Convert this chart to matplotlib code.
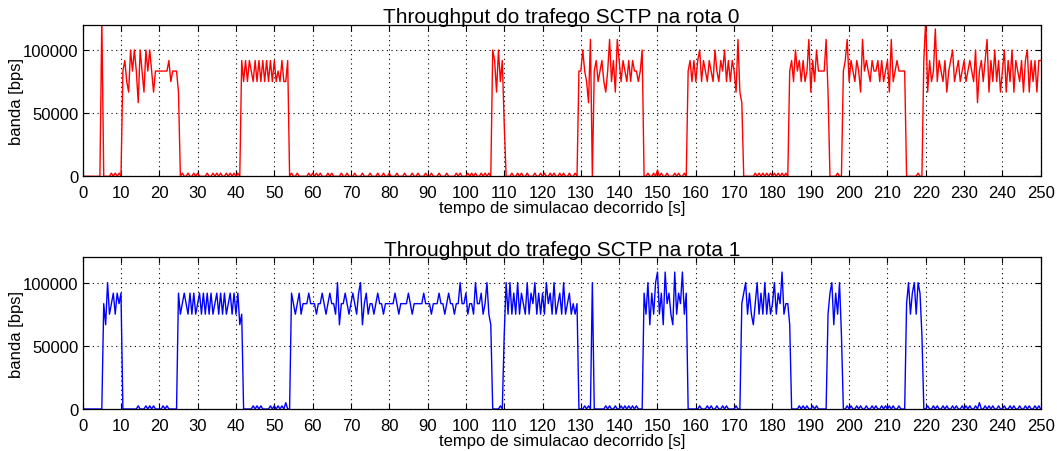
import numpy as np
import matplotlib.pyplot as plt

plt.rcParams['font.family'] = ['Liberation Sans', 'DejaVu Sans']

# banda em bps por codigo (um caractere por amostra, amostras a cada 0.5 s)
LEVELS = {'0': 0, '1': 2500, '2': 5000, '5': 41667, '6': 50000, '7': 58333,
          '8': 66667, '9': 75000, 'a': 83333, 'b': 91667, 'c': 100000,
          'd': 108333, 'e': 116667, 'f': 125000}
STEP = 0.5

# rota 0, uma linha por 10 s
rota0 = [
    "0000000000f000010101", "0ab98caca7ca8caca8aa", "aaaaab9aaa8010010010",
    "10000100101010010101", "010b9b9ba9b9b9b9b9b9", "b9a9b99b010010000010",
    "10101000101000010010", "00100010001000100100", "10001000100010010001",
    "00100010001000010100", "01010100101010cb8c9b", "50001001010010001001",
    "0100101001010010010a", "aca97d0ab9ab98ad9b8d", "b9ba9b9baa9ac0010010",
    "2010010001010010ab9b", "9bc9ba9ba9ca9bac9b9b", "a8d87000000101010101",
    "010101010ab9cab9b9ad", "8b9caaaad80000100abd", "9ba9ba8daba9baab9b9a",
    "b8d9abaaaa000000100b", "f8b9ae9ba9b8abc9ab9a", "b9aba9c7ab9bd8b9c9b8",
    "ac8b9c8ba9b8bc8b9b8b", "b",
]

# rota 1
rota1 = [
    "00000000000a8c9ab9ba", "b0000000010001010100", "0010100000b9aba9b9b9",
    "ab9b9b9b9ab9b9b9ab9b", "9b890000010101000010", "101010200ba9ab9aaaba",
    "aa9aaba9abaa9c8aaba9", "aba9bc8ab9aa9abaa9aa", "aaaba9aaaaba9aaaaaba",
    "aa9aaabaa9abaa9aacaa", "b9aa9caab9ac98000010", "7c9c9b9c9ba9c9bac9b9",
    "b9cab9c9ab9c9ab9a9a0", "001010c0000001010010", "0101010101000b9c8b9c",
    "d9b8dab98d9bad9b0000", "00100010100100101000", "0100abc9b98ac9b9c9b9",
    "ac9bad9aa80000101010", "0101000009bc8b9c7001", "01001010010010100101",
    "0101001000ac9bc9cb70", "01001010010100101001", "01010010200101010010",
    "01001010010010100101", "0",
]

titles = ["Throughput do trafego SCTP na rota 0",
          "Throughput do trafego SCTP na rota 1"]
colors = ["#ff0000", "#0000ff"]


def decode(lines):
    codes = "".join(lines)
    vals = np.array([LEVELS[c] for c in codes], dtype=float)
    t = np.arange(len(vals)) * STEP
    return t, vals


fig = plt.figure(figsize=(10.57, 4.52), dpi=100)
boxes = [[0.0782, 0.6077, 0.9064, 0.3354], [0.0782, 0.0929, 0.9064, 0.3356]]

for box, data, title, color in zip(boxes, [rota0, rota1], titles, colors):
    ax = fig.add_axes(box)
    t, v = decode(data)
    ax.plot(t, v, color=color, lw=1.0)
    ax.set_xlim(0, 250)
    ax.set_ylim(0, 120000)
    ax.set_xticks(np.arange(0, 251, 10))
    ax.set_yticks([0, 50000, 100000])
    ax.set_yticklabels(["0", "50000", "100000"])
    ax.tick_params(direction='in', top=True, right=True, length=4,
                   labelsize=12, width=0.8)
    ax.tick_params(axis='x', pad=6.5)
    ax.tick_params(axis='y', pad=3)
    ax.grid(True, color='black', linestyle=(0, (1, 3.2)), lw=0.8)
    for s in ax.spines.values():
        s.set_linewidth(0.9)
    ax.set_title(title, fontsize=15, pad=2)
    ax.set_xlabel("tempo de simulacao decorrido [s]", fontsize=12, labelpad=0)
    ax.set_ylabel("banda [bps]", fontsize=12, labelpad=-1)

fig.savefig("out.png", dpi=100)
